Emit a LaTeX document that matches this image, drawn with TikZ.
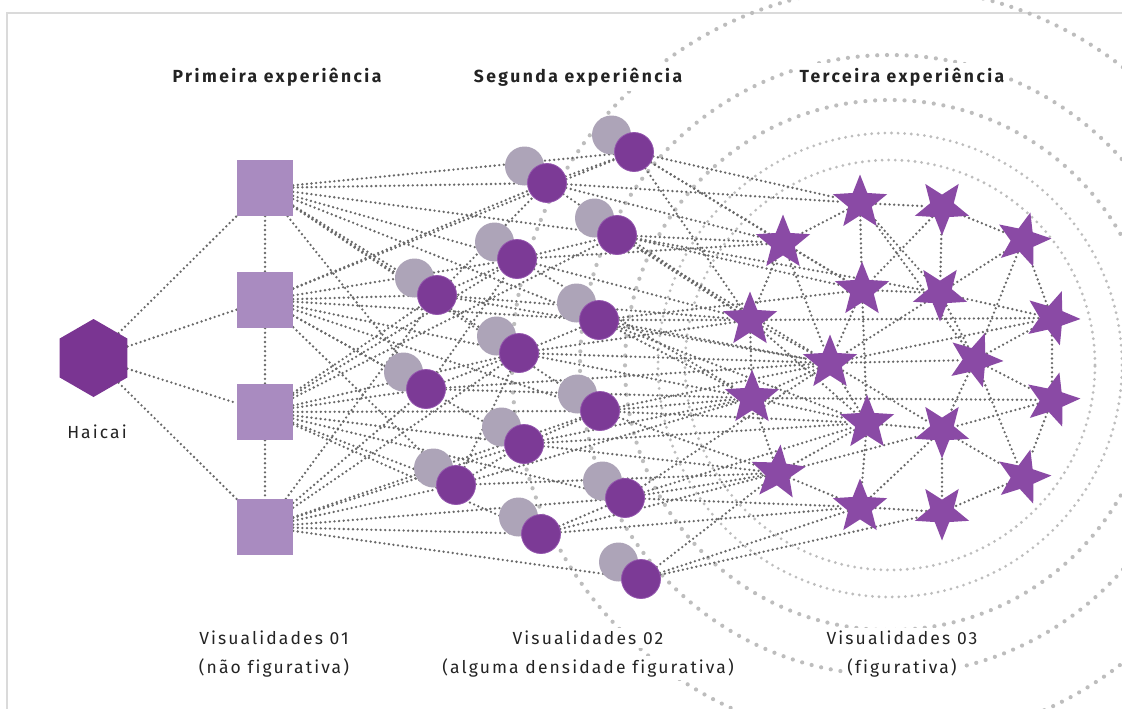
\documentclass[tikz,border=0pt]{standalone}
\usepackage{fontspec}
\setmainfont{Fira Sans}
\newfontfamily\ttlfont[LetterSpace=14,Ligatures=NoCommon]{Fira Sans}
\newfontfamily\lblfont[LetterSpace=12,Ligatures=NoCommon]{Fira Sans}
\usetikzlibrary{shapes.geometric}
\pgfdeclarelayer{bg}
\pgfsetlayers{bg,main}
\definecolor{hexc}{HTML}{7A3592}
\definecolor{sqc}{HTML}{A98BC0}
\definecolor{grc}{HTML}{ADA4B8}
\definecolor{puc}{HTML}{7C3A96}
\definecolor{pub}{HTML}{9456AE}
\definecolor{stc}{HTML}{8A4AA5}
\definecolor{linec}{HTML}{686868}
\definecolor{ringc}{HTML}{BDBDBD}
\definecolor{framec}{HTML}{DADADA}
\definecolor{txtc}{HTML}{232323}
\tikzset{
  conn/.style={draw=linec, line width=2.6pt, line cap=round, dash pattern=on 0pt off 4.6pt},
  ringin/.style={draw=ringc, line width=3.1pt, line cap=round, dash pattern=on 0pt off 6.6pt},
  ringout/.style={draw=ringc, line width=4.2pt, line cap=round, dash pattern=on 0pt off 9.8pt},
  hexnode/.style={regular polygon, regular polygon sides=6, rotate=30, fill=hexc, minimum size=78pt, inner sep=0pt},
  sqnode/.style={rectangle, fill=sqc, minimum size=56pt, inner sep=0pt},
  gcirc/.style={circle, fill=grc, minimum size=39pt, inner sep=0pt},
  pcirc/.style={circle, fill=puc, draw=pub, line width=0.8pt, minimum size=39pt, inner sep=0pt},
  starnode/.style={star, star points=5, star point ratio=2.3, fill=stc, minimum size=57pt, inner sep=0pt},
  ttl/.style={font=\ttlfont\bfseries\fontsize{17.5}{19}\selectfont, text=txtc, fill=white, inner sep=5pt},
  lbl/.style={font=\lblfont\fontsize{17.5}{19}\selectfont, text=txtc, fill=white, inner sep=3pt},
}
\begin{document}
\begin{tikzpicture}[x=1pt,y=-1pt]
\useasboundingbox (0,0) rectangle (1122,709);
\clip (0,0) rectangle (1122,709);

% nodes
\node[hexnode] (H) at (93.5,358) {};
\node[sqnode] (q1) at (265,188) {};
\node[sqnode] (q2) at (265,300) {};
\node[sqnode] (q3) at (265,412) {};
\node[sqnode] (q4) at (265,527) {};

\foreach \i/\x/\y in {1/634/152, 2/547/183, 3/617/235, 4/517/259, 5/437/295,
  6/599/320, 7/519/353, 8/426/389, 9/600/411, 10/524/444, 11/456/485,
  12/625/498, 13/541/534, 14/641/579}{
  \node[gcirc] (g\i) at (\x-22.5,\y-17) {};
  \node[pcirc] (c\i) at (\x,\y) {};
}

\foreach \i/\x/\y/\r in {1/860/203/0, 2/942/207/36, 3/1023/240/-15, 4/783/243/0,
  5/862/290/0, 6/940/293/36, 7/750/320/0, 8/1052/318/-20, 9/830/363/0,
  10/975/360/-20, 11/752/398/0, 12/1052/400/-15, 13/867/423/0, 14/942/430/36,
  15/778/473/-5, 16/1023/477/-15, 17/860/507/0, 18/942/512/36}{
  \node[starnode, rotate=\r] (s\i) at (\x,\y) {};
}

% labels
\node[ttl] (t1) at (277,77) {Primeira experiência};
\node[ttl] (t2) at (578,77) {Segunda experiência};
\node[ttl] (t3) at (902,77) {Terceira experiência};
\node[lbl, fill=none] (hl) at (97,432) {Haicai};
\node[lbl] (v1) at (274,638) {Visualidades 01};
\node[lbl] (v1b) at (274,668) {(não figurativa)};
\node[lbl] (v2) at (588,638) {Visualidades 02};
\node[lbl] (v2b) at (588,668) {(alguma densidade figurativa)};
\node[lbl] (v3) at (902,638) {Visualidades 03};
\node[lbl] (v3b) at (902,668) {(figurativa)};

\begin{pgfonlayer}{bg}
  \fill[white] (0,0) rectangle (1122,709);
  % frame
  \draw[framec, line width=2pt] (7,709) -- (7,13) -- (1122,13);
  % background rings
  \coordinate (rc) at (890,365);
  \draw[ringin] (rc) circle[radius=205pt];
  \draw[ringin] (rc) circle[radius=232pt];
  \draw[ringout] (rc) circle[radius=265pt];
  \draw[ringout] (rc) circle[radius=310pt];
  \draw[ringout] (rc) circle[radius=378pt];
  % connectors
  \foreach \a/\b in {H/q1,H/q2,H/q3,H/q4,q1/q2,q2/q3,q3/q4}
    \draw[conn] (\a) -- (\b);
  \foreach \a/\b in {q1/c1,q1/c2,q1/c3,q1/c4,q1/c5,q1/c6,q1/c7,q1/c8,q1/c9,
    q2/c1,q2/c2,q2/c4,q2/c5,q2/c6,q2/c7,q2/c8,q2/c9,q2/c10,q2/c11,
    q3/c3,q3/c4,q3/c5,q3/c7,q3/c8,q3/c9,q3/c10,q3/c11,q3/c12,q3/c13,
    q4/c5,q4/c7,q4/c8,q4/c9,q4/c10,q4/c11,q4/c12,q4/c13,q4/c14}
    \draw[conn] (\a) -- (\b);
  \foreach \a/\b in {c2/c1,c4/c3,c5/c4,c7/c6,c8/c7,c10/c9,c11/c10,c13/c12,c5/c2,c8/c4,c11/c7}
    \draw[conn] (\a) -- (\b);
  \foreach \a/\b in {c1/s1,c1/s4,c1/s5,c1/s7,c2/s1,c2/s4,c2/s7,
    c3/s4,c3/s5,c3/s7,c3/s9,c3/s6,c4/s4,c4/s7,c4/s11,c5/s7,c5/s9,
    c6/s7,c6/s9,c6/s5,c6/s11,c6/s13,c7/s7,c7/s11,c7/s9,c8/s11,c8/s9,
    c9/s11,c9/s13,c9/s15,c9/s9,c10/s11,c10/s15,c10/s13,c11/s15,c11/s11,
    c12/s15,c12/s17,c12/s13,c12/s9,c13/s15,c13/s17,c14/s15,c14/s17,c14/s18}
    \draw[conn] (\a) -- (\b);
  \foreach \a/\b in {s1/s2,s1/s4,s1/s5,s1/s6,s2/s3,s2/s6,s2/s5,s3/s8,s3/s6,s3/s10,
    s4/s5,s4/s7,s4/s9,s5/s6,s5/s9,s5/s13,s6/s8,s6/s10,s6/s9,
    s7/s9,s7/s11,s7/s13,s7/s8,s8/s10,s8/s12,
    s9/s11,s9/s13,s9/s10,s9/s14,s10/s12,s10/s14,s10/s16,
    s11/s13,s11/s15,s11/s12,s12/s16,s12/s14,s13/s14,s13/s15,s13/s17,
    s14/s16,s14/s18,s14/s17,s15/s17,s16/s18,s17/s18,s15/s14,s1/s10,s9/s8}
    \draw[conn] (\a) -- (\b);
\end{pgfonlayer}
\end{tikzpicture}
\end{document}
